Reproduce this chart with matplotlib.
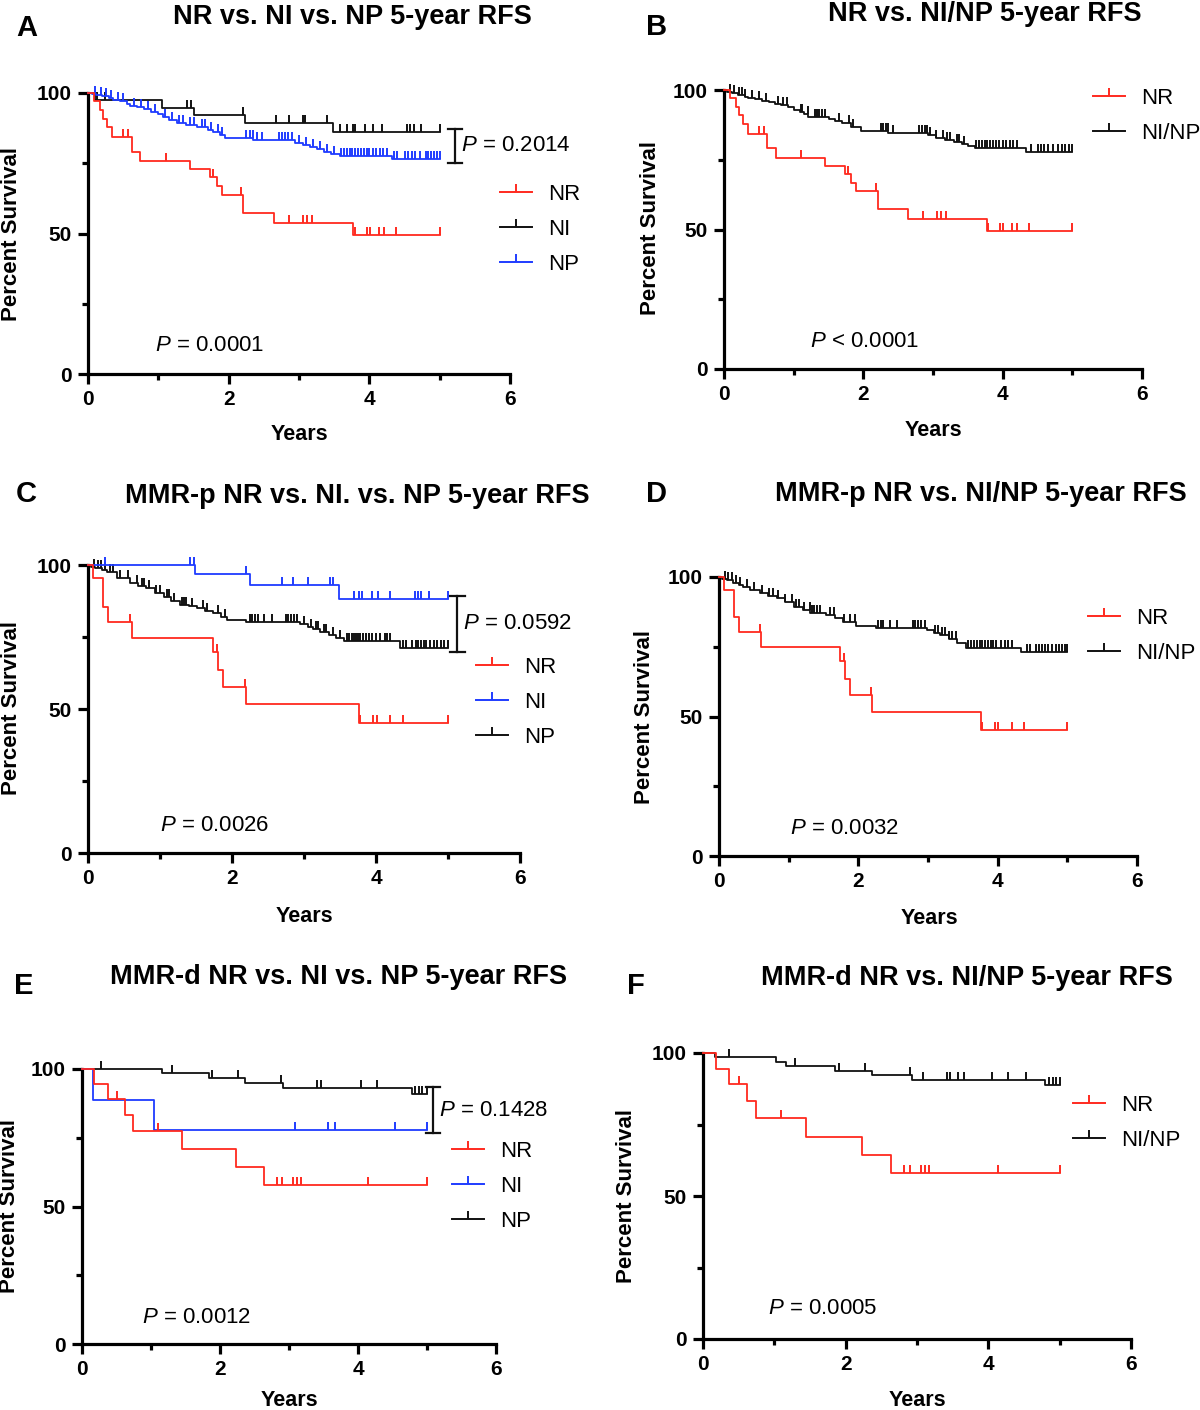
import numpy as np
import matplotlib
matplotlib.use('Agg')
import matplotlib.pyplot as plt
from matplotlib.lines import Line2D

plt.rcParams['font.family'] = ['Liberation Sans', 'DejaVu Sans']
plt.rcParams['mathtext.fontset'] = 'custom'
plt.rcParams['mathtext.rm'] = 'Liberation Sans'
plt.rcParams['mathtext.it'] = 'Liberation Sans:italic'

RED = '#ff2a1f'
BLUE = '#1f3cff'
BLACK = '#111111'

# ---- survival data (event times in years, % survival after event, censor times) ----
# A / B : whole cohort
a_nr_t = [0.08, 0.17, 0.22, 0.27, 0.34, 0.62, 0.74, 1.45, 1.74, 1.83, 1.90, 2.21, 2.64, 3.77]
a_nr_s = [97.0, 93.9, 90.9, 87.9, 84.2, 79.1, 75.8, 72.8, 70.0, 66.8, 63.7, 57.2, 53.9, 49.5]
a_nr_c = [0.50, 0.57, 1.11, 1.78, 2.18, 2.86, 3.06, 3.11, 3.18, 3.79, 3.96, 4.01, 4.14, 4.21, 4.38, 5.0]

a_ni_t = [0.10, 1.05, 1.50, 2.23, 3.49]
a_ni_s = [97.4, 94.8, 92.1, 89.3, 86.1]
a_ni_c = [0.13, 0.24, 1.41, 1.47, 2.2, 2.68, 2.86, 3.05, 3.09, 3.4, 3.58, 3.68, 3.77, 3.8, 3.94,
          4.05, 4.18, 4.53, 4.58, 4.63, 4.73, 5.0]

a_np_t = [0.05, 0.12, 0.2, 0.3, 0.36, 0.45, 0.55, 0.6, 0.7, 0.8, 0.9, 1.0, 1.07, 1.15, 1.26, 1.4,
          1.55, 1.7, 1.78, 1.88, 1.95, 2.35, 2.95, 3.05, 3.15, 3.25, 3.35, 3.45, 3.58, 4.32]
a_np_s = [99.6, 99.3, 98.9, 98.2, 97.5, 97.0, 96.2, 95.4, 94.9, 94.2, 93.4, 92.5, 91.3, 90.5, 89.2,
          88.6, 88.0, 87.0, 86.2, 85.0, 84.1, 83.3, 82.3, 81.6, 80.7, 79.9, 79.0, 78.3, 77.6, 76.4]
a_np_c = [0.1, 0.18, 0.25, 0.33, 0.42, 0.5, 0.65, 0.75, 0.85, 0.95, 1.1, 1.2, 1.3, 1.35, 1.45, 1.5,
          1.62, 1.66, 1.75, 1.85, 1.9, 2.25, 2.3, 2.34, 2.4, 2.47, 2.72, 2.76, 2.8, 2.85, 2.9, 3.0,
          3.1, 3.2, 3.3, 3.4, 3.5, 3.6, 3.64, 3.68, 3.72, 3.76, 3.8, 3.84, 3.88, 3.92, 3.96, 4.0,
          4.05, 4.1, 4.15, 4.2, 4.25, 4.35, 4.4, 4.5, 4.55, 4.6, 4.65, 4.72, 4.8, 4.84, 4.88, 4.92,
          4.96, 5.0]

b_ninp_t = [0.05, 0.11, 0.2, 0.3, 0.35, 0.45, 0.54, 0.65, 0.73, 0.82, 0.92, 1.0, 1.09, 1.15, 1.21,
            1.5, 1.6, 1.69, 1.83, 1.97, 2.36, 2.93, 3.05, 3.17, 3.3, 3.41, 3.5, 3.6, 4.34]
b_ninp_s = [99.4, 98.8, 98.2, 97.6, 97.2, 96.8, 96.2, 95.6, 95.0, 94.5, 93.9, 93.0, 92.2, 91.3, 90.4,
            89.6, 88.8, 88.1, 86.9, 85.4, 84.5, 83.7, 82.9, 82.1, 81.5, 80.8, 80.0, 79.1, 77.9]
b_ninp_c = [0.08, 0.15, 0.22, 0.26, 0.3, 0.4, 0.5, 0.6, 0.78, 0.85, 0.9, 1.1, 1.12, 1.2, 1.3, 1.33,
            1.36, 1.4, 1.45, 1.65, 1.8, 1.85, 2.25, 2.28, 2.32, 2.35, 2.42, 2.8, 2.84, 2.88, 2.92,
            2.96, 3.05, 3.15, 3.2, 3.25, 3.35, 3.38, 3.45, 3.62, 3.66, 3.7, 3.74, 3.78, 3.82, 3.86,
            3.9, 3.95, 4.0, 4.05, 4.1, 4.15, 4.2, 4.4, 4.5, 4.55, 4.6, 4.65, 4.72, 4.8, 4.85, 4.9,
            4.95, 5.0]

# C / D : MMR-p
c_nr_t = [0.07, 0.21, 0.28, 0.61, 1.74, 1.81, 1.88, 2.2, 3.76]
c_nr_s = [95.4, 85.5, 80.3, 74.8, 69.9, 63.5, 57.8, 51.6, 45.0]
c_nr_c = [0.59, 1.79, 2.18, 3.78, 3.96, 4.01, 4.2, 4.38, 5.0]

c_ni_t = [1.49, 2.25, 3.48]
c_ni_s = [96.8, 93.1, 88.2]
c_ni_c = [0.24, 1.42, 1.47, 2.2, 2.69, 2.85, 3.05, 3.36, 3.4, 3.7, 3.77, 3.8, 3.94, 4.03, 4.19,
          4.54, 4.59, 4.62, 4.74, 5.0]

c_np_t = [0.04, 0.1, 0.2, 0.26, 0.4, 0.58, 0.7, 0.81, 0.93, 1.05, 1.15, 1.28, 1.4, 1.51, 1.62,
          1.74, 1.85, 1.93, 2.2, 2.94, 3.05, 3.13, 3.22, 3.35, 3.45, 3.55, 4.33]
c_np_s = [99.4, 98.8, 98.2, 97.7, 95.6, 93.6, 92.8, 91.9, 90.4, 89.0, 87.5, 86.1, 85.6, 85.2, 84.2,
          83.2, 82.0, 80.9, 80.3, 79.5, 78.6, 77.7, 76.8, 75.7, 74.6, 73.6, 71.1]
c_np_c = [0.08, 0.14, 0.18, 0.24, 0.3, 0.35, 0.45, 0.55, 0.68, 0.75, 0.78, 0.85, 0.95, 1.0, 1.1,
          1.12, 1.2, 1.3, 1.33, 1.36, 1.45, 1.6, 1.65, 1.8, 1.9, 2.25, 2.28, 2.32, 2.36, 2.45, 2.55,
          2.75, 2.78, 2.82, 2.86, 2.9, 3.0, 3.1, 3.17, 3.2, 3.28, 3.3, 3.4, 3.5, 3.6, 3.63, 3.66,
          3.69, 3.72, 3.75, 3.78, 3.82, 3.86, 3.9, 3.95, 4.0, 4.05, 4.12, 4.15, 4.2, 4.38, 4.42,
          4.5, 4.55, 4.58, 4.62, 4.66, 4.7, 4.75, 4.8, 4.85, 4.9, 4.95, 5.0]

d_ninp_t = [0.05, 0.11, 0.2, 0.28, 0.35, 0.45, 0.59, 0.7, 0.83, 0.95, 1.07, 1.2, 1.31, 1.54, 1.66,
            1.78, 1.97, 2.26, 2.98, 3.08, 3.17, 3.3, 3.42, 3.55, 4.34]
d_ninp_s = [99.4, 98.8, 97.7, 97.1, 96.5, 95.3, 94.1, 93.2, 92.3, 90.9, 89.4, 88.2, 87.0, 86.4, 85.2,
            84.0, 82.4, 81.8, 80.9, 80.0, 79.2, 77.8, 76.2, 74.7, 73.0]
d_ninp_c = [0.08, 0.13, 0.18, 0.24, 0.3, 0.4, 0.5, 0.62, 0.72, 0.78, 0.85, 0.95, 1.05, 1.1, 1.15,
            1.22, 1.3, 1.33, 1.36, 1.4, 1.45, 1.6, 1.65, 1.8, 1.88, 1.95, 2.28, 2.32, 2.36, 2.45,
            2.55, 2.78, 2.82, 2.86, 2.9, 2.95, 3.1, 3.15, 3.2, 3.25, 3.3, 3.35, 3.4, 3.58, 3.62,
            3.66, 3.7, 3.74, 3.78, 3.82, 3.86, 3.9, 3.94, 3.98, 4.05, 4.1, 4.15, 4.2, 4.42, 4.46,
            4.55, 4.6, 4.64, 4.68, 4.72, 4.78, 4.84, 4.88, 4.92, 4.96, 5.0]

# E / F : MMR-d
e_nr_t = [0.18, 0.37, 0.62, 0.74, 1.45, 2.23, 2.64]
e_nr_s = [94.4, 89.0, 83.3, 77.4, 70.8, 64.3, 57.9]
e_nr_c = [0.5, 1.1, 2.82, 2.9, 3.06, 3.11, 3.17, 4.14, 5.0]

e_ni_t = [0.16, 1.04]
e_ni_s = [88.9, 77.8]
e_ni_c = [3.09, 3.56, 3.66, 4.53, 5.0]

e_np_t = [1.16, 1.84, 2.36, 2.92, 4.78]
e_np_s = [98.4, 96.6, 94.8, 93.0, 90.8]
e_np_c = [0.28, 1.3, 1.88, 2.26, 2.88, 3.4, 3.47, 4.04, 4.27, 4.83, 4.88, 4.93, 5.0]

f_ninp_t = [0.17, 1.03, 1.16, 1.85, 2.37, 2.93, 4.8]
f_ninp_s = [98.5, 96.7, 95.5, 93.8, 92.2, 90.6, 88.8]
f_ninp_c = [0.36, 1.29, 1.9, 2.27, 2.9, 3.09, 3.42, 3.46, 3.58, 3.66, 4.05, 4.27, 4.53, 4.85, 4.9,
            4.95, 5.0]

W, H = 1200, 1410
fig = plt.figure(figsize=(W / 100, H / 100), dpi=100)


def fx(x):
    return x / W


def fy(y):
    return 1 - y / H


def panel(left, right, top, bottom):
    ax = fig.add_axes([fx(left), fy(bottom), (right - left) / W, (bottom - top) / H])
    ax.set_xlim(0, 6)
    ax.set_ylim(0, 100)
    for sp in ['top', 'right']:
        ax.spines[sp].set_visible(False)
    for sp in ['left', 'bottom']:
        ax.spines[sp].set_linewidth(2.3)
    ax.set_xticks([0, 2, 4, 6])
    ax.set_xticks([1, 3, 5], minor=True)
    ax.set_yticks([0, 50, 100])
    ax.set_yticks([25, 75], minor=True)
    ax.tick_params(which='major', length=7.5, width=2.3, labelsize=15, pad=4)
    ax.tick_params(which='minor', length=4.5, width=2.3)
    for lbl in ax.get_xticklabels() + ax.get_yticklabels():
        lbl.set_fontweight('bold')
    ax.patch.set_visible(False)
    return ax


def km(ax, t, s, cens, color):
    end = max(cens[-1], t[-1])
    tt = np.r_[0, t, end]
    ss = np.r_[100, s, s[-1]]
    ax.step(tt, ss, where='post', color=color, lw=1.3, clip_on=False, zorder=3)
    idx = np.searchsorted(tt, cens, side='right') - 1
    ax.plot(cens, ss[idx], ls='none', marker=2, ms=5.5, mew=1.4, color=color,
            clip_on=False, zorder=3)


def legend(labels, colors, x, y):
    handles = [Line2D([], [], color=c, lw=1.4, marker=2, ms=5.5, mew=1.4) for c in colors]
    fig.legend(handles, labels, loc='upper left', bbox_to_anchor=(fx(x), fy(y)),
               frameon=False, fontsize=16, borderpad=0, borderaxespad=0,
               handlelength=1.45, handletextpad=0.7, labelspacing=0.62)


def bracket(ax, x, hi, lo, text):
    top, bot = hi + 1.2, lo - 1.2
    ax.plot([x, x], [bot, top], color=BLACK, lw=1.6, clip_on=False)
    ax.plot([x - 0.1, x + 0.1], [top, top], color=BLACK, lw=1.6, clip_on=False)
    ax.plot([x - 0.1, x + 0.1], [bot, bot], color=BLACK, lw=1.6, clip_on=False)
    ax.text(x + 0.08, (top + bot) / 2, text, fontsize=16, va='center', ha='left')


def labels(letter, lxy, title, txy, ylab_xy, years_xy):
    fig.text(fx(lxy[0]), fy(lxy[1]), letter, fontsize=21, fontweight='bold', ha='center', va='center')
    fig.text(fx(txy[0]), fy(txy[1]), title, fontsize=19.5, fontweight='bold', ha='center', va='center')
    fig.text(fx(ylab_xy[0]), fy(ylab_xy[1]), 'Percent Survival', fontsize=16, fontweight='bold',
             rotation=90, ha='center', va='center')
    fig.text(fx(years_xy[0]), fy(years_xy[1]), 'Years', fontsize=15.5, fontweight='bold',
             ha='center', va='center')


# ---- A ----
ax = panel(88, 510, 93, 374)
km(ax, a_ni_t, a_ni_s, a_ni_c, BLACK)
km(ax, a_np_t, a_np_s, a_np_c, BLUE)
km(ax, a_nr_t, a_nr_s, a_nr_c, RED)
bracket(ax, 5.22, a_ni_s[-1], a_np_s[-1], '$P$ = 0.2014')
ax.text(0.95, 10.3, '$P$ = 0.0001', fontsize=16, va='center')
legend(['NR', 'NI', 'NP'], [RED, BLACK, BLUE], 500, 184)
labels('A', (27, 28), 'NR vs. NI vs. NP 5-year RFS', (352, 17), (12, 234), (299, 434))

# ---- B ----
ax = panel(724, 1142, 90, 369)
km(ax, b_ninp_t, b_ninp_s, b_ninp_c, BLACK)
km(ax, a_nr_t, a_nr_s, a_nr_c, RED)
ax.text(1.23, 10, '$P$ < 0.0001', fontsize=16, va='center')
legend(['NR', 'NI/NP'], [RED, BLACK], 1093, 88)
labels('B', (657, 27), 'NR vs. NI/NP 5-year RFS', (985, 14), (650, 228), (933, 430))

# ---- C ----
ax = panel(88, 520, 565, 853)
km(ax, c_np_t, c_np_s, c_np_c, BLACK)
km(ax, c_ni_t, c_ni_s, c_ni_c, BLUE)
km(ax, c_nr_t, c_nr_s, c_nr_c, RED)
bracket(ax, 5.13, c_ni_s[-1], c_np_s[-1], '$P$ = 0.0592')
ax.text(1.0, 9.7, '$P$ = 0.0026', fontsize=16, va='center')
legend(['NR', 'NI', 'NP'], [RED, BLUE, BLACK], 476, 657)
labels('C', (26, 494), 'MMR-p NR vs. NI. vs. NP 5-year RFS', (357, 496), (12, 708), (304, 917))

# ---- D ----
ax = panel(719, 1137, 577, 856)
km(ax, d_ninp_t, d_ninp_s, d_ninp_c, BLACK)
km(ax, c_nr_t, c_nr_s, c_nr_c, RED)
ax.text(1.02, 9.7, '$P$ = 0.0032', fontsize=16, va='center')
legend(['NR', 'NI/NP'], [RED, BLACK], 1088, 608)
labels('D', (657, 494), 'MMR-p NR vs. NI/NP 5-year RFS', (981, 494), (645, 717), (929, 919))

# ---- E ----
ax = panel(82, 496, 1069, 1344)
km(ax, e_np_t, e_np_s, e_np_c, BLACK)
km(ax, e_ni_t, e_ni_s, e_ni_c, BLUE)
km(ax, e_nr_t, e_nr_s, e_nr_c, RED)
bracket(ax, 5.09, e_np_s[-1] + 1.5, e_ni_s[-1], '$P$ = 0.1428')
ax.text(0.87, 9.8, '$P$ = 0.0012', fontsize=16, va='center')
legend(['NR', 'NI', 'NP'], [RED, BLUE, BLACK], 452, 1141)
labels('E', (24, 986), 'MMR-d NR vs. NI vs. NP 5-year RFS', (338, 977), (10, 1206), (289, 1400))

# ---- F ----
ax = panel(703, 1131, 1053, 1339)
km(ax, f_ninp_t, f_ninp_s, f_ninp_c, BLACK)
km(ax, e_nr_t, e_nr_s, e_nr_c, RED)
ax.text(0.91, 10.8, '$P$ = 0.0005', fontsize=16, va='center')
legend(['NR', 'NI/NP'], [RED, BLACK], 1073, 1095)
labels('F', (636, 986), 'MMR-d NR vs. NI/NP 5-year RFS', (967, 978), (627, 1196), (917, 1400))

fig.savefig('out.png', dpi=100)
